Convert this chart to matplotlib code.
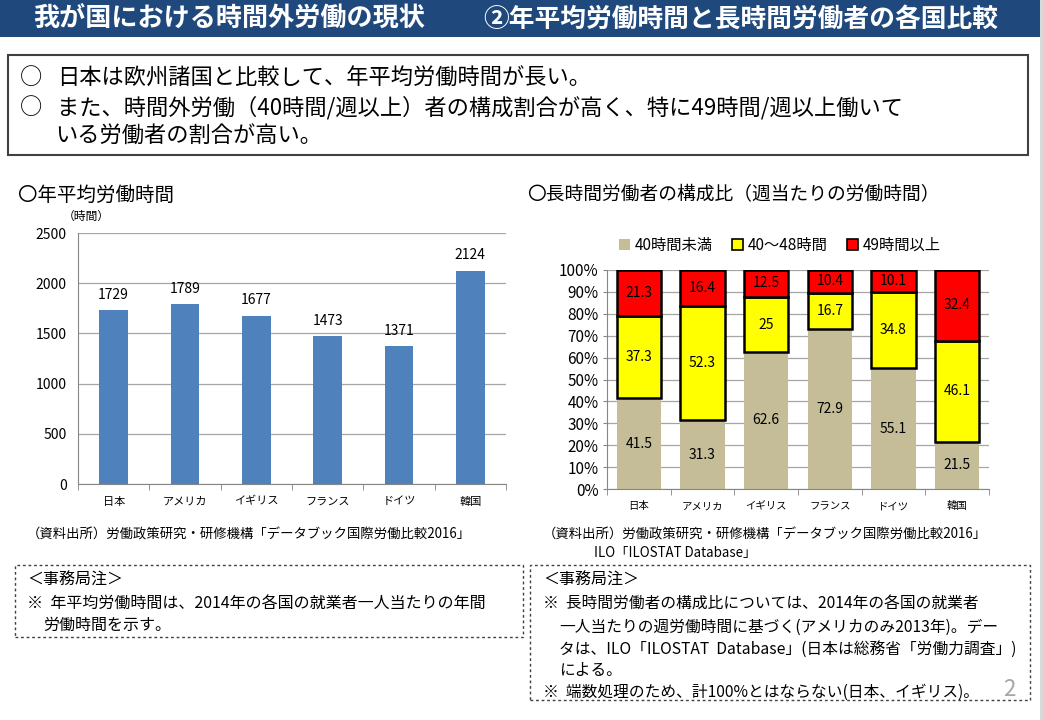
import matplotlib
matplotlib.use("Agg")
import matplotlib.pyplot as plt
from matplotlib.patches import Rectangle, Patch

plt.rcParams['font.family'] = ['Noto Sans CJK JP', 'DejaVu Sans']

# data
countries = ['日本', 'アメリカ', 'イギリス', 'フランス', 'ドイツ', '韓国']
annual_hours = [1729, 1789, 1677, 1473, 1371, 2124]
under40 = [41.5, 31.3, 62.6, 72.9, 55.1, 21.5]
h40_48 = [37.3, 52.3, 25, 16.7, 34.8, 46.1]
over49 = [21.3, 16.4, 12.5, 10.4, 10.1, 32.4]
series_names = ['40時間未満', '40～48時間', '49時間以上']

W, H = 1043, 720
fig = plt.figure(figsize=(W / 100, H / 100), dpi=100)
fig.patch.set_facecolor('white')


def fx(px):
    return px / W


def fy(py):
    return 1 - py / H


def txt(x, y, s, **kw):
    kw.setdefault('va', 'center')
    fig.text(fx(x), fy(y), s, **kw)


# header bar
fig.patches.append(Rectangle((0, fy(37)), fx(1040), 37 / H, transform=fig.transFigure,
                             facecolor='#1F497D', edgecolor='none'))
fig.patches.append(Rectangle((fx(1040), 0), fx(3), 1, transform=fig.transFigure,
                             facecolor='#D9D9D9', edgecolor='none'))
txt(33, 19, '我が国における時間外労働の現状', color='white', fontsize=18.8, fontweight='bold')
txt(483, 19, '②年平均労働時間と長時間労働者の各国比較', color='white', fontsize=18.5, fontweight='bold')

# summary box
fig.patches.append(Rectangle((fx(8), fy(155)), fx(1020), 100 / H, transform=fig.transFigure,
                             facecolor='white', edgecolor='#404040', lw=1.5))
txt(20, 78, '○', fontsize=16)
txt(57, 78, '日本は欧州諸国と比較して、年平均労働時間が長い。', fontsize=16)
txt(20, 108, '○', fontsize=16)
txt(57, 108, 'また、時間外労働（40時間/週以上）者の構成割合が高く、特に49時間/週以上働いて', fontsize=16)
txt(55, 136, 'いる労働者の割合が高い。', fontsize=16)

# left chart: annual working hours
txt(18, 195, '〇年平均労働時間', fontsize=14)
txt(63, 216, '（時間）', fontsize=8.5)

ax1 = fig.add_axes([fx(78), fy(484), fx(506) - fx(78), (484 - 233) / H])
x = range(len(countries))
bars = ax1.bar(x, annual_hours, width=0.4, color='#4F81BD')
for b, v in zip(bars, annual_hours):
    ax1.annotate(str(v), (b.get_x() + b.get_width() / 2, v), xytext=(0, 6),
                 textcoords='offset points', ha='center', va='bottom', fontsize=10)
ax1.set_ylim(0, 2500)
ax1.set_yticks(range(0, 2501, 500))
ax1.set_xlim(-0.5, 5.5)
ax1.set_xticks(list(x))
ax1.set_xticklabels(countries, fontsize=8)
ax1.set_xticks([i - 0.5 for i in range(7)], minor=True)
ax1.tick_params(axis='x', which='major', length=0, pad=9)
ax1.tick_params(axis='x', which='minor', length=4, color='#868686')
ax1.tick_params(axis='y', length=0, labelsize=10, pad=8)
ax1.grid(axis='y', color='#A6A6A6', lw=0.9)
ax1.set_axisbelow(True)
for s in ['top', 'right']:
    ax1.spines[s].set_visible(False)
for s in ['left', 'bottom']:
    ax1.spines[s].set_color('#868686')

txt(27, 535, '（資料出所）労働政策研究・研修機構「データブック国際労働比較2016」', fontsize=9.6)

# right chart: composition of long hours workers
txt(527, 195, '〇長時間労働者の構成比（週当たりの労働時間）', fontsize=13.5)

ax2 = fig.add_axes([fx(607), fy(489), fx(989) - fx(607), (489 - 270) / H])
tan, yel, red = '#C4BD97', '#FFFF00', '#FF0000'
bottom2 = under40
bottom3 = [a + b for a, b in zip(under40, h40_48)]
ax2.bar(x, under40, width=0.7, color=tan, edgecolor='none')
ax2.bar(x, h40_48, width=0.7, bottom=bottom2, color=yel, edgecolor='black', lw=1.8)
ax2.bar(x, over49, width=0.7, bottom=bottom3, color=red, edgecolor='black', lw=1.8)
for i in x:
    ax2.text(i, under40[i] / 2, str(under40[i]), ha='center', va='center', fontsize=10)
    ax2.text(i, bottom2[i] + h40_48[i] / 2, str(h40_48[i]), ha='center', va='center', fontsize=10)
    ax2.text(i, bottom3[i] + over49[i] / 2, str(over49[i]), ha='center', va='center', fontsize=10)
ax2.set_ylim(0, 100)
ax2.set_yticks(range(0, 101, 10))
ax2.set_yticklabels([f'{v}%' for v in range(0, 101, 10)], fontsize=11)
ax2.set_xlim(-0.5, 5.5)
ax2.set_xticks(list(x))
ax2.set_xticklabels(countries, fontsize=7.5)
ax2.set_xticks([i - 0.5 for i in range(7)], minor=True)
ax2.tick_params(axis='x', which='major', length=0, pad=9)
ax2.tick_params(axis='x', which='minor', length=4, color='#868686')
ax2.tick_params(axis='y', length=3, color='#868686', pad=3)
ax2.grid(axis='y', color='#A6A6A6', lw=0.9)
ax2.set_axisbelow(True)
for s in ['top', 'right']:
    ax2.spines[s].set_visible(False)
for s in ['left', 'bottom']:
    ax2.spines[s].set_color('#868686')

handles = [Patch(facecolor=tan, edgecolor='none'),
           Patch(facecolor=yel, edgecolor='black', lw=1.2),
           Patch(facecolor=red, edgecolor='black', lw=1.2)]
fig.legend(handles, series_names, loc='center', bbox_to_anchor=(fx(780), fy(245)),
           ncol=3, frameon=False, fontsize=11, handlelength=0.7, handleheight=0.7,
           handletextpad=0.3, columnspacing=1.3)

txt(543, 535, '（資料出所）労働政策研究・研修機構「データブック国際労働比較2016」', fontsize=9.6)
txt(675, 553, 'ILO「ILOSTAT Database」', fontsize=9.6, ha='center')

# notes boxes
fig.patches.append(Rectangle((fx(15), fy(637)), fx(508), 72 / H, transform=fig.transFigure,
                             facecolor='none', edgecolor='#404040', lw=1, ls=(0, (2, 2))))
fig.patches.append(Rectangle((fx(530), fy(700)), fx(500), 135 / H, transform=fig.transFigure,
                             facecolor='none', edgecolor='#404040', lw=1, ls=(0, (2, 2))))

txt(27, 580, '＜事務局注＞', fontsize=11.5)
txt(27, 603, '※  年平均労働時間は、2014年の各国の就業者一人当たりの年間', fontsize=11.5)
txt(43, 625, '労働時間を示す。', fontsize=11.5)

txt(543, 580, '＜事務局注＞', fontsize=11.5)
txt(543, 603, '※  長時間労働者の構成比については、2014年の各国の就業者', fontsize=11.3)
txt(559, 627, '一人当たりの週労働時間に基づく(アメリカのみ2013年)。デー', fontsize=11.3)
txt(559, 649, 'タは、ILO「ILOSTAT  Database」(日本は総務省「労働力調査」)', fontsize=11.3)
txt(559, 670, 'による。', fontsize=11.3)
txt(543, 692, '※  端数処理のため、計100%とはならない(日本、イギリス)。', fontsize=11.3)
txt(1003, 690, '2', fontsize=16, color='#A6A6A6')

fig.savefig('out.png', dpi=100)
